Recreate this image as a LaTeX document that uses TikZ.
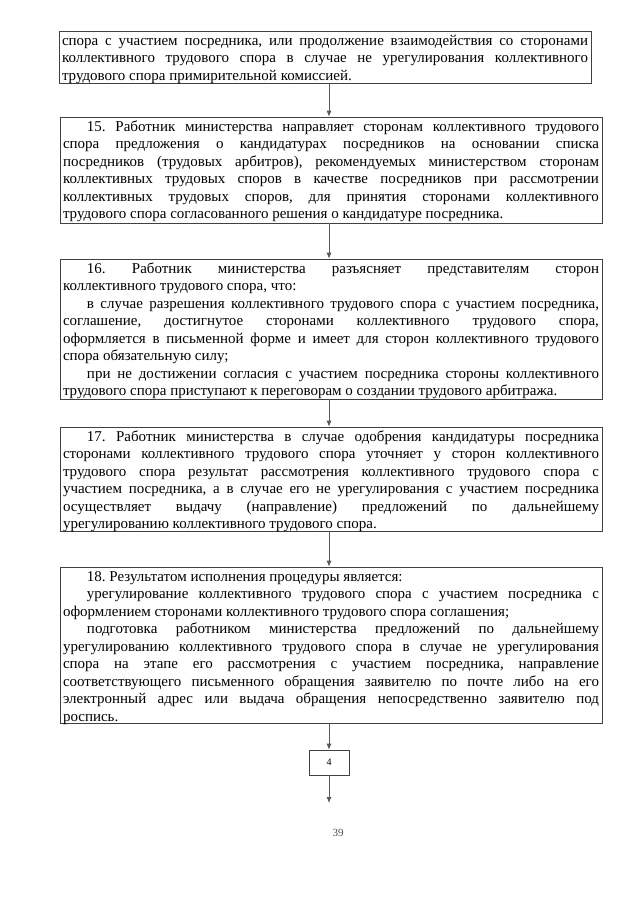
\documentclass[tikz,border=0pt]{standalone}
\usepackage{fontspec}
\setmainfont{Liberation Serif}
\usetikzlibrary{arrows.meta}
\newcommand{\fst}{\rule{0pt}{14pt}}
\newcommand{\boxtext}[3]{%
  \begin{minipage}[c][#2][t]{#1}\fontsize{15pt}{17.5pt}\selectfont\frenchspacing
  \setlength{\parindent}{24pt}\hyphenpenalty=10000\exhyphenpenalty=10000
  \tolerance=10000\emergencystretch=0pt
  #3\end{minipage}}
\tikzset{
  stepbox/.style={draw=black!75, line width=0.6pt, rectangle, inner xsep=3pt, inner ysep=0pt},
  arr/.style={draw=black!65, line width=0.9pt, -{Latex[length=6pt,width=5pt]}},
}
\begin{document}
\begin{tikzpicture}[x=1pt,y=-1pt]
\useasboundingbox (0,0) rectangle (640,905);
\fill[white] (0,0) rectangle (640,905);

\node[stepbox] (b1) at (325,57) {\boxtext{526pt}{52pt}{\noindent\fst спора с участием посредника, или продолжение взаимодействия со сторонами\linebreak
коллективного трудового спора в случае не урегулирования коллективного\linebreak
трудового спора примирительной комиссией.}};

\node[stepbox] (b2) at (331,170) {\boxtext{536pt}{106pt}{\fst 15. Работник министерства направляет сторонам коллективного трудового\linebreak
спора предложения о кандидатурах посредников на основании списка\linebreak
посредников (трудовых арбитров), рекомендуемых министерством сторонам\linebreak
коллективных трудовых споров в качестве посредников при рассмотрении\linebreak
коллективных трудовых споров, для принятия сторонами коллективного\linebreak
трудового спора согласованного решения о кандидатуре посредника.}};

\node[stepbox] (b3) at (331,329) {\boxtext{536pt}{140pt}{\fst 16. Работник министерства разъясняет представителям сторон\linebreak
коллективного трудового спора, что:\par
в случае разрешения коллективного трудового спора с участием посредника,\linebreak
соглашение, достигнутое сторонами коллективного трудового спора,\linebreak
оформляется в письменной форме и имеет для сторон коллективного трудового\linebreak
спора обязательную силу;\par
при не достижении согласия с участием посредника стороны коллективного\linebreak
трудового спора приступают к переговорам о создании трудового арбитража.}};

\node[stepbox] (b4) at (331,479) {\boxtext{536pt}{104pt}{\fst 17. Работник министерства в случае одобрения кандидатуры посредника\linebreak
сторонами коллективного трудового спора уточняет у сторон коллективного\linebreak
трудового спора результат рассмотрения коллективного трудового спора с\linebreak
участием посредника, а в случае его не урегулирования с участием посредника\linebreak
осуществляет выдачу (направление) предложений по дальнейшему\linebreak
урегулированию коллективного трудового спора.}};

\node[stepbox] (b5) at (331,645) {\boxtext{536pt}{156pt}{\fst 18. Результатом исполнения процедуры является:\par
урегулирование коллективного трудового спора с участием посредника с\linebreak
оформлением сторонами коллективного трудового спора соглашения;\par
подготовка работником министерства предложений по дальнейшему\linebreak
урегулированию коллективного трудового спора в случае не урегулирования\linebreak
спора на этапе его рассмотрения с участием посредника, направление\linebreak
соответствующего письменного обращения заявителю по почте либо на его\linebreak
электронный адрес или выдача обращения непосредственно заявителю под\linebreak
роспись.}};

\node[draw=black!75, line width=0.6pt, rectangle, minimum width=40pt, minimum height=25pt, inner sep=0pt,
      font=\fontsize{10pt}{12pt}\selectfont] (b6) at (329,762.5) {4};
\coordinate (end) at (329,803);
\node[font=\fontsize{11pt}{13pt}\selectfont, text=black!70] (pg) at (338,833) {39};

\draw[arr] (b1.south -| b6.center) -- (b2.north -| b6.center);
\draw[arr] (b2.south -| b6.center) -- (b3.north -| b6.center);
\draw[arr] (b3.south -| b6.center) -- (b4.north -| b6.center);
\draw[arr] (b4.south -| b6.center) -- (b5.north -| b6.center);
\draw[arr] (b5.south -| b6.center) -- (b6.north);
\draw[arr] (b6.south) -- (end);
\end{tikzpicture}
\end{document}
